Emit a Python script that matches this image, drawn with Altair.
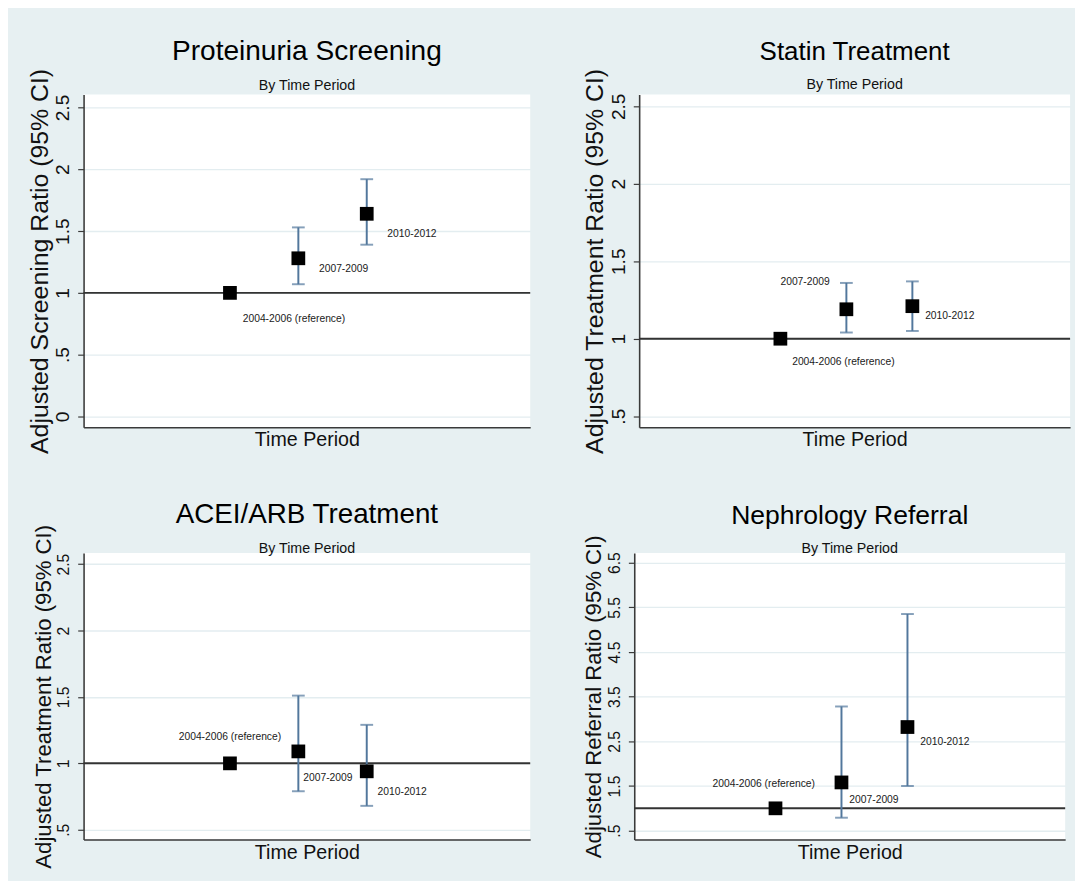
import altair as alt
import pandas as pd

# ---------------- data ----------------
periods = ["2004-2006", "2007-2009", "2010-2012"]
period_pos = [1, 2, 3]
point_labels = ["2004-2006 (reference)", "2007-2009", "2010-2012"]

panel_titles = ["Proteinuria Screening", "Statin Treatment",
                "ACEI/ARB Treatment", "Nephrology Referral"]
panel_subtitle = "By Time Period"
y_titles = ["Adjusted Screening Ratio (95% CI)",
            "Adjusted Treatment Ratio (95% CI)",
            "Adjusted Treatment Ratio (95% CI)",
            "Adjusted Referral Ratio (95% CI)"]
x_title = "Time Period"

protein_est = [1.00, 1.28, 1.64]
protein_lo = [None, 1.07, 1.39]
protein_hi = [None, 1.53, 1.92]

statin_est = [1.00, 1.19, 1.21]
statin_lo = [None, 1.04, 1.05]
statin_hi = [None, 1.36, 1.37]

acei_est = [1.00, 1.09, 0.94]
acei_lo = [None, 0.79, 0.68]
acei_hi = [None, 1.51, 1.29]

referral_est = [1.00, 1.58, 2.82]
referral_lo = [None, 0.79, 1.50]
referral_hi = [None, 3.28, 5.35]

protein_ticks = [0, 0.5, 1, 1.5, 2, 2.5]
statin_ticks = [0.5, 1, 1.5, 2, 2.5]
acei_ticks = [0.5, 1, 1.5, 2, 2.5]
referral_ticks = [0.5, 1.5, 2.5, 3.5, 4.5, 5.5, 6.5]

reference_value = 1

# ---------------- layout / style ----------------
FONT = "Liberation Sans, Arial, sans-serif"
BG = "#e7f0f2"
BAR_COLOR = "#52779c"

panels = [
    dict(est=protein_est, lo=protein_lo, hi=protein_hi, ticks=protein_ticks,
         domain=[-0.088, 2.605], width=455, height=339, title_size=28.6,
         ytitle_size=25.3, label_size=19.5, title_offset=-24,
         labels=[("left", 13, 27), ("left", 21, 11), ("left", 21, 21)]),
    dict(est=statin_est, lo=statin_lo, hi=statin_hi, ticks=statin_ticks,
         domain=[0.428, 2.576], width=439, height=339, title_size=26.4,
         ytitle_size=25.3, label_size=19.5, title_offset=-24,
         labels=[("left", 12, 24), ("right", -17, -28), ("left", 13, 10)]),
    dict(est=acei_est, lo=acei_lo, hi=acei_hi, ticks=acei_ticks,
         domain=[0.426, 2.584], width=455, height=292, title_size=28.3,
         ytitle_size=22.6, label_size=16, title_offset=-33,
         labels=[("center", 0, -27), ("left", 5, 27), ("left", 11, 21)]),
    dict(est=referral_est, lo=referral_lo, hi=referral_hi, ticks=referral_ticks,
         domain=[0.30, 6.717], width=439, height=292, title_size=27,
         ytitle_size=22.6, label_size=16, title_offset=-22,
         labels=[("center", -12, -25), ("left", 8, 18), ("left", 13, 15)]),
]

X_DOMAIN = [-1.14, 5.39]


def make_panel(i):
    p = panels[i]
    df = pd.DataFrame({
        "period": periods,
        "pos": period_pos,
        "est": p["est"],
        "lo": p["lo"],
        "hi": p["hi"],
        "label": point_labels,
    })
    yscale = alt.Scale(domain=p["domain"], nice=False, zero=False)
    xscale = alt.Scale(domain=X_DOMAIN, nice=False, zero=False)
    x_axis = alt.Axis(title=x_title, labels=False, ticks=False, grid=False,
                      domainColor="#3a3a3a", domainWidth=1.6,
                      titleFontSize=20, titleFont=FONT, titleFontWeight="normal",
                      titleColor="#111111", titlePadding=3)
    y_axis = alt.Axis(title=y_titles[i], values=p["ticks"],
                      labelExpr="datum.value == 0.5 ? '.5' : format(datum.value, '~g')",
                      labelAngle=270, labelAlign="center", labelBaseline="alphabetic",
                      labelFontSize=p["label_size"], labelFont=FONT, labelColor="#111111",
                      labelPadding=9, tickSize=6, tickColor="#3a3a3a", tickWidth=1.2,
                      domainColor="#3a3a3a", domainWidth=1.6,
                      grid=True, gridColor="#e3edf0", gridWidth=1.3,
                      titleFontSize=p["ytitle_size"], titleFont=FONT,
                      titleFontWeight="normal", titleColor="#111111", titlePadding=1)

    base = alt.Chart(df)
    x_enc = alt.X("pos:Q", scale=xscale, axis=x_axis)

    def y_enc(field):
        return alt.Y(field, type="quantitative", scale=yscale, axis=y_axis)

    ref = alt.Chart(pd.DataFrame({"ref": [reference_value]})).mark_rule(
        color="#333333", strokeWidth=2
    ).encode(y=y_enc("ref"))

    bars = base.mark_rule(color=BAR_COLOR, strokeWidth=2).encode(
        x=x_enc, y=y_enc("lo"), y2="hi:Q")
    cap_lo = base.mark_tick(orient="horizontal", color=BAR_COLOR, size=13,
                            thickness=2).encode(x=x_enc, y=y_enc("lo"))
    cap_hi = base.mark_tick(orient="horizontal", color=BAR_COLOR, size=13,
                            thickness=2).encode(x=x_enc, y=y_enc("hi"))
    pts = base.mark_square(size=196, color="black", opacity=1, filled=True).encode(
        x=x_enc, y=y_enc("est"))

    layers = [ref, bars, cap_lo, cap_hi, pts]
    for k, (align, dx, dy) in enumerate(p["labels"]):
        txt = base.transform_filter(
            alt.datum.period == periods[k]
        ).mark_text(align=align, baseline="middle", dx=dx, dy=dy,
                    font=FONT, fontSize=10.5, color="#1a1a1a").encode(
            x=x_enc, y=y_enc("est"), text="label:N")
        layers.append(txt)

    return alt.layer(*layers).properties(
        width=p["width"], height=p["height"],
        title=alt.TitleParams(
            text=panel_titles[i], subtitle=panel_subtitle,
            fontSize=p["title_size"], font=FONT, fontWeight="normal", color="#000000",
            subtitleFontSize=14.5, subtitleFont=FONT, subtitleColor="#111111",
            anchor="middle", frame="group", offset=p["title_offset"],
            subtitlePadding=13),
    )


row1 = alt.hconcat(make_panel(0), make_panel(1), spacing=52)
row2 = alt.hconcat(make_panel(2), make_panel(3), spacing=52)

chart = alt.vconcat(row1, row2, spacing=47).properties(
    padding={"left": 20, "top": 22, "right": 4, "bottom": 4},
).configure(
    background=BG,
).configure_view(
    stroke=None, fill="white",
)

chart.save("out.html", embed_options={"renderer": "svg", "actions": False})
